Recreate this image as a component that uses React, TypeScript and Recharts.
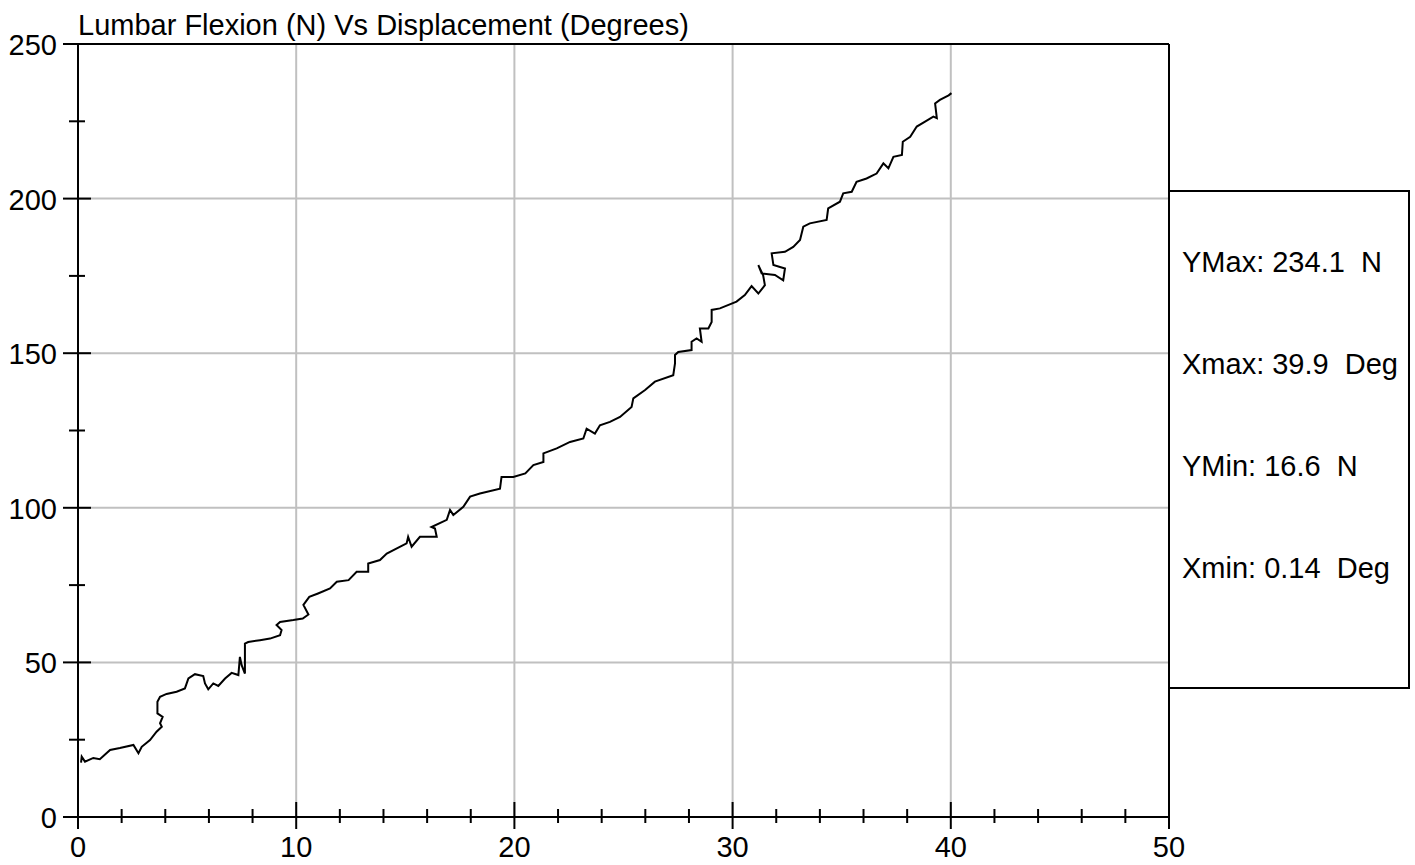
import { LineChart, Line, XAxis, YAxis, ReferenceLine } from 'recharts'

const displacement = [
  0.14, 0.17, 0.32, 0.7, 1.0, 1.47, 1.92, 2.54, 2.77, 2.92, 3.3, 3.6, 3.84, 3.76, 3.88, 3.64, 3.64, 3.76,
  4.06, 4.52, 4.9, 5.06, 5.36, 5.74, 5.82, 5.97, 6.2, 6.43, 6.74, 7.04, 7.35, 7.42, 7.5, 7.65, 7.65, 7.65,
  7.8, 8.34, 8.8, 9.26, 9.33, 9.1, 9.26, 9.87, 10.3, 10.56, 10.33, 10.6, 11.0, 11.55, 11.86, 12.4, 12.77,
  13.3, 13.3, 13.84, 14.15, 15.06, 15.13, 15.29, 15.67, 16.44, 16.36, 16.2, 16.9, 17.05, 17.2, 17.66, 17.97,
  18.42, 19.34, 19.41, 19.95, 20.5, 20.87, 21.33, 21.33, 21.94, 22.55, 23.16, 23.31, 23.69, 23.92, 24.38,
  24.84, 25.37, 25.45, 25.99, 26.44, 27.28, 27.36, 27.36, 27.51, 28.12, 28.12, 28.35, 28.58, 28.5, 28.89,
  29.04, 29.04, 29.42, 30.18, 30.56, 30.87, 31.18, 31.48, 31.4, 31.18, 31.33, 31.94, 32.32, 32.4, 31.87,
  31.79, 32.4, 32.78, 33.09, 33.24, 33.54, 34.31, 34.38, 34.92, 35.07, 35.46, 35.68, 36.14, 36.45, 36.6,
  36.91, 37.14, 37.37, 37.76, 37.8, 38.14, 38.44, 38.82, 39.2, 39.36, 39.28, 39.5, 39.9, 40.03,
]

const force = [
  17.6, 19.5, 17.9, 19.1, 18.7, 21.7, 22.3, 23.3, 20.6, 22.7, 24.9, 27.6, 29.2, 30.3, 32.4, 33.5, 37.3, 38.9,
  39.8, 40.5, 41.6, 44.8, 46.2, 45.6, 43.2, 41.3, 43.2, 42.4, 44.8, 46.6, 45.9, 51.8, 49.1, 46.4, 50.8, 56.1,
  56.6, 57.2, 57.7, 58.8, 60.5, 62.1, 63.1, 63.7, 64.2, 65.5, 68.6, 71.2, 72.3, 73.9, 76.1, 76.6, 79.3,
  79.3, 82.0, 83.1, 85.2, 88.5, 90.6, 87.4, 90.6, 90.6, 93.3, 93.8, 96.1, 99.3, 97.7, 100.3, 103.6,
  104.6, 106.2, 110.0, 110.0, 111.1, 113.8, 114.8, 117.6, 119.2, 121.3, 122.4, 125.6, 124.0, 126.7, 127.8,
  129.4, 132.6, 135.4, 138.1, 140.8, 142.9, 146.7, 149.4, 150.4, 151.0, 153.7, 154.8, 153.7, 158.0, 158.0,
  160.1, 164.0, 164.5, 166.7, 168.8, 171.7, 169.3, 172.0, 175.2, 178.5, 175.8, 175.3, 173.6, 177.4, 178.5,
  182.3, 182.8, 184.4, 186.6, 190.9, 192.0, 193.1, 196.8, 199.0, 201.7, 202.2, 205.4, 206.5, 207.6, 208.1,
  211.4, 209.8, 213.5, 214.1, 218.4, 220.0, 223.3, 224.9, 226.5, 226.0, 230.8, 231.9, 233.4, 234.1,
]

const xTicks = [0, 2, 4, 6, 8, 10, 12, 14, 16, 18, 20, 22, 24, 26, 28, 30, 32, 34, 36, 38, 40, 42, 44, 46, 48, 50]
const yTicks = [0, 25, 50, 75, 100, 125, 150, 175, 200, 225, 250]
const gridX = [10, 20, 30, 40]
const gridY = [50, 100, 150, 200]

const statLines = ['YMax: 234.1  N', 'Xmax: 39.9  Deg', 'YMin: 16.6  N', 'Xmin: 0.14  Deg']

const rows = displacement.map((x, i) => ({ x, y: force[i] }))

const FONT = '"Liberation Sans", Arial, sans-serif'

function XTick(props: any) {
  const { x, y, payload } = props
  const major = payload.value % 10 === 0
  if (!major) {
    return <line x1={x} x2={x} y1={y - 8} y2={y + 6} stroke="#000" strokeWidth={2} />
  }
  return (
    <g>
      <line x1={x} x2={x} y1={y - 15} y2={y + 12} stroke="#000" strokeWidth={2} />
      <text x={x} y={y + 40} textAnchor="middle" fontSize={29} fontFamily={FONT} fill="#000">
        {payload.value}
      </text>
    </g>
  )
}

function YTick(props: any) {
  const { x, y, payload } = props
  const major = payload.value % 50 === 0
  if (!major) {
    return <line x1={x - 9} x2={x + 7} y1={y} y2={y} stroke="#000" strokeWidth={2} />
  }
  return (
    <g>
      <line x1={x - 15} x2={x + 13} y1={y} y2={y} stroke="#000" strokeWidth={2} />
      <text x={x - 21} y={y + 11} textAnchor="end" fontSize={29} fontFamily={FONT} fill="#000">
        {payload.value}
      </text>
    </g>
  )
}

export default function App() {
  return (
    <div style={{ position: 'absolute', left: 0, top: 0, width: 1415, height: 865, background: '#fff' }}>
      <LineChart
        width={1415}
        height={865}
        data={rows}
        margin={{ top: 44, right: 246, bottom: 0, left: 0 }}
      >
        <XAxis
          type="number"
          dataKey="x"
          domain={[0, 50]}
          ticks={xTicks}
          interval={0}
          allowDataOverflow
          tickSize={0}
          tickMargin={0}
          tickLine={false}
          axisLine={{ stroke: '#000', strokeWidth: 2 }}
          tick={<XTick />}
          height={48}
        />
        <YAxis
          type="number"
          dataKey="y"
          domain={[0, 250]}
          ticks={yTicks}
          interval={0}
          allowDataOverflow
          tickSize={0}
          tickMargin={0}
          tickLine={false}
          axisLine={{ stroke: '#000', strokeWidth: 2 }}
          tick={<YTick />}
          width={78}
        />
        {gridX.map((v) => (
          <ReferenceLine key={'gx' + v} x={v} stroke="#c0c0c0" strokeWidth={2} />
        ))}
        {gridY.map((v) => (
          <ReferenceLine key={'gy' + v} y={v} stroke="#c0c0c0" strokeWidth={2} />
        ))}
        <ReferenceLine y={250} stroke="#000" strokeWidth={2} />
        <ReferenceLine x={50} stroke="#000" strokeWidth={2} />
        <Line
          type="linear"
          dataKey="y"
          stroke="#000"
          strokeWidth={2}
          dot={false}
          isAnimationActive={false}
        />
      </LineChart>

      <svg
        width={1415}
        height={865}
        style={{ position: 'absolute', left: 0, top: 0, pointerEvents: 'none' }}
      >
        <text x={78} y={35} fontSize={29} fontFamily={FONT} fill="#000">
          Lumbar Flexion (N) Vs Displacement (Degrees)
        </text>
        <rect x={1169} y={191} width={240} height={497} fill="#fff" stroke="#000" strokeWidth={2} />
        {statLines.map((s, i) => (
          <text
            key={s}
            x={1182}
            y={272 + i * 102}
            fontSize={29}
            fontFamily={FONT}
            fill="#000"
            style={{ whiteSpace: 'pre' }}
          >
            {s}
          </text>
        ))}
      </svg>
    </div>
  )
}
